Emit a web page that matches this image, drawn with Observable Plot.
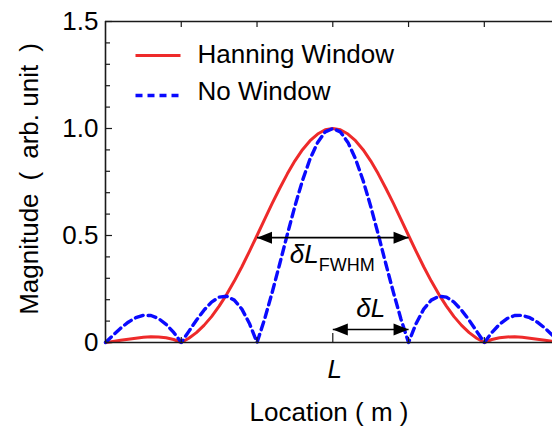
<!DOCTYPE html>
<html><head><meta charset="utf-8">
<script src="https://cdn.jsdelivr.net/npm/d3@7"></script>
<script src="https://cdn.jsdelivr.net/npm/@observablehq/plot@0.6"></script>
<style>html,body{margin:0;padding:0;background:#fff}</style>
</head><body><div id="chart"></div>
<script>
// Location in units of δL relative to L
const xs = [-3.0,-2.9,-2.8,-2.7,-2.6,-2.5,-2.4,-2.3,-2.2,-2.1,-2.0,-1.9,-1.8,-1.7,-1.6,-1.5,-1.4,-1.3,-1.2,-1.1,
  -1.0,-0.9,-0.8,-0.7,-0.6,-0.5,-0.4,-0.3,-0.2,-0.1,0.0,0.1,0.2,0.3,0.4,0.5,0.6,0.7,0.8,0.9,
  1.0,1.1,1.2,1.3,1.4,1.5,1.6,1.7,1.8,1.9,2.0,2.1,2.2,2.3,2.4,2.5,2.6,2.7,2.8,2.9];
const hanning = [0,0.005,0.010,0.015,0.020,0.024,0.027,0.026,0.022,0.014,
  0,0.020,0.046,0.080,0.121,0.170,0.225,0.287,0.354,0.426,
  0.5,0.575,0.650,0.721,0.788,0.849,0.901,0.943,0.974,0.994,
  1,
  0.994,0.974,0.943,0.901,0.849,0.788,0.721,0.650,0.575,
  0.5,0.426,0.354,0.287,0.225,0.170,0.121,0.080,0.046,0.020,
  0,0.014,0.022,0.026,0.027,0.024,0.020,0.015,0.010,0.005];
const noWindow = [0,0.034,0.067,0.095,0.116,0.127,0.126,0.112,0.085,0.047,
  0,0.052,0.104,0.151,0.189,0.212,0.216,0.198,0.156,0.089,
  0,0.109,0.234,0.368,0.505,0.637,0.757,0.858,0.935,0.984,
  1,
  0.984,0.935,0.858,0.757,0.637,0.505,0.368,0.234,0.109,
  0,0.089,0.156,0.198,0.216,0.212,0.189,0.151,0.104,0.052,
  0,0.047,0.085,0.112,0.126,0.127,0.116,0.095,0.067,0.034];
const seriesNames = ["Hanning Window", "No Window"];
const yTickValues = [0, 0.5, 1.0, 1.5];
const yTickLabels = ["0", "0.5", "1.0", "1.5"];
const yMinorTicks = [0.1,0.2,0.3,0.4,0.6,0.7,0.8,0.9,1.1,1.2,1.3,1.4];
const xTickValues = [-2, -1, 0, 1, 2];
const xTickLabel = "L";
const xTitle = "Location ( m )";
const yTitle = "Magnitude\u2002(\u2002arb. unit\u2002)";
const fwhmSpan = [-1, 1];
const fwhmLevel = 0.49;
const dlSpan = [0, 1];
const dlLevel = 0.061;

const RED = "#ee2a2a", BLUE = "#0a0aff", AX = "#1a1a1a";
const font = "'Liberation Sans', Arial, sans-serif";
const W = 552, H = 427, ML = 105, MR = 0, MT = 21, MB = 85;
const xDom = [-3, 2.9], yDom = [0, 1.5];
const pxX = (xDom[1]-xDom[0]) / (W-ML-MR);   // data units per px
const pxY = (yDom[1]-yDom[0]) / (H-MT-MB);

const table = xs.map((x, i) => ({x, hanning: hanning[i], noWindow: noWindow[i]}));
const yTicks = yTickValues.map((v, i) => ({v, label: yTickLabels[i]}));
const head = {draw(ctx) { ctx.moveTo(0, 0); ctx.lineTo(-15, -6); ctx.lineTo(-15, 6); ctx.closePath(); }};

const plot = Plot.plot({
  width: W, height: H,
  marginLeft: ML, marginRight: MR, marginTop: MT, marginBottom: MB,
  x: {domain: xDom, axis: null},
  y: {domain: yDom, axis: null},
  style: {fontFamily: font, background: "white", color: "black", overflow: "visible"},
  marks: [
    // curves
    Plot.line(table, {x: "x", y: "hanning", stroke: RED, strokeWidth: 3}),
    Plot.line(table, {x: "x", y: "noWindow", stroke: BLUE, strokeWidth: 3.4, strokeDasharray: "8,5"}),
    // frame
    Plot.ruleY([yDom[0], yDom[1]], {stroke: AX, strokeWidth: 1.6}),
    Plot.ruleX([xDom[0]], {y1: yDom[0], y2: yDom[1], stroke: AX, strokeWidth: 1.6}),
    // y ticks (inward)
    Plot.ruleY(yTickValues, {x1: xDom[0], x2: xDom[0] + 7*pxX, stroke: AX, strokeWidth: 1.2}),
    Plot.ruleY(yMinorTicks, {x1: xDom[0], x2: xDom[0] + 5*pxX, stroke: AX, strokeWidth: 1.2}),
    // x ticks top and bottom (inward)
    Plot.ruleX(xTickValues, {y1: yDom[1], y2: yDom[1] - 6*pxY, stroke: AX, strokeWidth: 1.2}),
    Plot.ruleX(xTickValues.filter(d => d !== 0), {y1: 0, y2: 5*pxY, stroke: AX, strokeWidth: 1.2}),
    Plot.ruleX([0], {y1: 0, y2: 9*pxY, stroke: AX, strokeWidth: 1.2}),
    // tick labels
    Plot.text(yTicks, {x: xDom[0], y: "v", text: "label", dx: -7, textAnchor: "end", lineAnchor: "middle", fontSize: 26, fill: "black"}),
    Plot.text([xTickLabel], {x: 0, y: 0, dy: 35, dx: 2, lineAnchor: "bottom", fontSize: 26, fontStyle: "italic", fill: "black"}),
    // axis titles
    Plot.text([xTitle], {frameAnchor: "bottom", textAnchor: "middle", dy: 78, lineAnchor: "bottom", fontSize: 26, fill: "black"}),
    Plot.text([yTitle], {frameAnchor: "left", textAnchor: "middle", dx: -68, dy: -3, rotate: -90, lineAnchor: "bottom", fontSize: 26, fill: "black"}),
    // legend
    Plot.link([seriesNames[0]], {x1: xDom[0] + 30*pxX, x2: xDom[0] + 75*pxX, y1: yDom[1] - 34*pxY, y2: yDom[1] - 34*pxY, stroke: RED, strokeWidth: 3}),
    Plot.link([seriesNames[1]], {x1: xDom[0] + 30*pxX, x2: xDom[0] + 75*pxX, y1: yDom[1] - 74*pxY, y2: yDom[1] - 74*pxY, stroke: BLUE, strokeWidth: 3.4, strokeDasharray: "7,5"}),
    Plot.text([seriesNames[0]], {x: xDom[0] + 92*pxX, y: yDom[1] - 33*pxY, textAnchor: "start", lineAnchor: "middle", fontSize: 26, fill: "black"}),
    Plot.text([seriesNames[1]], {x: xDom[0] + 92*pxX, y: yDom[1] - 70*pxY, textAnchor: "start", lineAnchor: "middle", fontSize: 26, fill: "black"}),
    // FWHM arrow
    Plot.link([0], {x1: fwhmSpan[0], x2: fwhmSpan[1], y1: fwhmLevel, y2: fwhmLevel, stroke: "black", strokeWidth: 1.6}),
    Plot.dot([fwhmSpan[1]], {x: d => d, y: fwhmLevel, symbol: head, fill: "black", stroke: null}),
    Plot.dot([fwhmSpan[0]], {x: d => d, y: fwhmLevel, symbol: head, fill: "black", stroke: null, rotate: 180}),
    Plot.text(["\u03B4L"], {x: 0, y: fwhmLevel, dy: 25, dx: -14, textAnchor: "end", lineAnchor: "bottom", fontSize: 26, fontStyle: "italic", fill: "black"}),
    Plot.text(["FWHM"], {x: 0, y: fwhmLevel, dy: 33, dx: -14, textAnchor: "start", lineAnchor: "bottom", fontSize: 18, fill: "black"}),
    // δL arrow
    Plot.link([0], {x1: dlSpan[0], x2: dlSpan[1], y1: dlLevel, y2: dlLevel, stroke: "black", strokeWidth: 1.6}),
    Plot.dot([dlSpan[1]], {x: d => d, y: dlLevel, symbol: head, fill: "black", stroke: null}),
    Plot.dot([dlSpan[0]], {x: d => d, y: dlLevel, symbol: head, fill: "black", stroke: null, rotate: 180}),
    Plot.text(["\u03B4L"], {x: (dlSpan[0] + dlSpan[1]) / 2, y: dlLevel, dy: -12, lineAnchor: "bottom", fontSize: 26, fontStyle: "italic", fill: "black"})
  ]
});
document.getElementById("chart").appendChild(plot);
</script>
</body></html>
